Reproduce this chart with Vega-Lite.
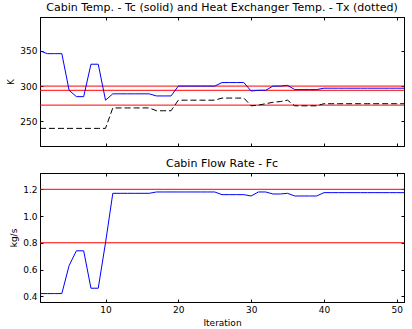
{
  "$schema": "https://vega.github.io/schema/vega-lite/v6.json",
  "background": "white",
  "padding": {"left": 6, "top": 1, "right": 4, "bottom": 3},
  "spacing": 10,
  "datasets": {
    "main": [
      {"i": 1, "Tc": 350, "Tx": 240, "Fc": 0.42},
      {"i": 2, "Tc": 346, "Tx": 240, "Fc": 0.42},
      {"i": 3, "Tc": 346, "Tx": 240, "Fc": 0.42},
      {"i": 4, "Tc": 346, "Tx": 240, "Fc": 0.42},
      {"i": 5, "Tc": 294, "Tx": 240, "Fc": 0.63},
      {"i": 6, "Tc": 285, "Tx": 240, "Fc": 0.74},
      {"i": 7, "Tc": 285, "Tx": 240, "Fc": 0.74},
      {"i": 8, "Tc": 331, "Tx": 240, "Fc": 0.46},
      {"i": 9, "Tc": 331, "Tx": 240, "Fc": 0.46},
      {"i": 10, "Tc": 280, "Tx": 240, "Fc": 0.80},
      {"i": 11, "Tc": 289, "Tx": 269, "Fc": 1.17},
      {"i": 12, "Tc": 289, "Tx": 269, "Fc": 1.17},
      {"i": 13, "Tc": 289, "Tx": 269, "Fc": 1.17},
      {"i": 14, "Tc": 289, "Tx": 269, "Fc": 1.17},
      {"i": 15, "Tc": 289, "Tx": 269, "Fc": 1.17},
      {"i": 16, "Tc": 289, "Tx": 269, "Fc": 1.17},
      {"i": 17, "Tc": 286, "Tx": 265, "Fc": 1.18},
      {"i": 18, "Tc": 286, "Tx": 265, "Fc": 1.18},
      {"i": 19, "Tc": 286, "Tx": 265, "Fc": 1.18},
      {"i": 20, "Tc": 300, "Tx": 280, "Fc": 1.18},
      {"i": 21, "Tc": 300, "Tx": 280, "Fc": 1.18},
      {"i": 22, "Tc": 300, "Tx": 280, "Fc": 1.18},
      {"i": 23, "Tc": 300, "Tx": 280, "Fc": 1.18},
      {"i": 24, "Tc": 300, "Tx": 280, "Fc": 1.18},
      {"i": 25, "Tc": 300, "Tx": 280, "Fc": 1.18},
      {"i": 26, "Tc": 305, "Tx": 283, "Fc": 1.16},
      {"i": 27, "Tc": 305, "Tx": 283, "Fc": 1.16},
      {"i": 28, "Tc": 305, "Tx": 283, "Fc": 1.16},
      {"i": 29, "Tc": 305, "Tx": 283, "Fc": 1.16},
      {"i": 30, "Tc": 293, "Tx": 272, "Fc": 1.15},
      {"i": 31, "Tc": 294, "Tx": 273, "Fc": 1.18},
      {"i": 32, "Tc": 294, "Tx": 275, "Fc": 1.18},
      {"i": 33, "Tc": 300, "Tx": 277, "Fc": 1.165},
      {"i": 34, "Tc": 300, "Tx": 278, "Fc": 1.165},
      {"i": 35, "Tc": 301, "Tx": 280, "Fc": 1.17},
      {"i": 36, "Tc": 295, "Tx": 272, "Fc": 1.15},
      {"i": 37, "Tc": 295, "Tx": 272, "Fc": 1.15},
      {"i": 38, "Tc": 295, "Tx": 272, "Fc": 1.15},
      {"i": 39, "Tc": 295, "Tx": 272, "Fc": 1.15},
      {"i": 40, "Tc": 297, "Tx": 275, "Fc": 1.175},
      {"i": 41, "Tc": 297, "Tx": 275, "Fc": 1.175},
      {"i": 42, "Tc": 297, "Tx": 275, "Fc": 1.175},
      {"i": 43, "Tc": 297, "Tx": 275, "Fc": 1.175},
      {"i": 44, "Tc": 297, "Tx": 275, "Fc": 1.175},
      {"i": 45, "Tc": 297, "Tx": 275, "Fc": 1.175},
      {"i": 46, "Tc": 297, "Tx": 275, "Fc": 1.175},
      {"i": 47, "Tc": 297, "Tx": 275, "Fc": 1.175},
      {"i": 48, "Tc": 297, "Tx": 275, "Fc": 1.175},
      {"i": 49, "Tc": 297, "Tx": 275, "Fc": 1.175},
      {"i": 50, "Tc": 297, "Tx": 275, "Fc": 1.175},
      {"i": 51, "Tc": 297, "Tx": 275, "Fc": 1.175}
    ],
    "limT": [{"v": 300}, {"v": 294}, {"v": 273}],
    "limF": [{"v": 1.2}, {"v": 0.8}]
  },
  "vconcat": [
    {
      "width": 364,
      "height": 129,
      "title": {"text": "Cabin Temp. - Tc (solid) and Heat Exchanger Temp. - Tx (dotted)"},
      "layer": [
        {
          "data": {"name": "limT"},
          "mark": {"type": "rule", "color": "#ff0000", "strokeWidth": 1},
          "encoding": {
            "y": {"field": "v", "type": "quantitative",
              "scale": {"domain": [215, 398], "nice": false, "zero": false},
              "axis": {"orient": "left", "title": "K", "values": [250, 300, 350]}}
          }
        },
        {
          "data": {"name": "main"},
          "mark": {"type": "line", "color": "#0000ff", "strokeWidth": 1},
          "encoding": {
            "x": {"field": "i", "type": "quantitative",
              "scale": {"domain": [1, 51], "nice": false, "zero": false},
              "axis": {"orient": "bottom", "labels": false, "title": null, "values": [10, 20, 30, 40, 50]}},
            "y": {"field": "Tc", "type": "quantitative",
              "axis": {"orient": "right", "labels": false, "title": null, "values": [250, 300, 350]}}
          }
        },
        {
          "data": {"name": "main"},
          "mark": {"type": "line", "color": "#000000", "strokeWidth": 1, "strokeDash": [6, 3]},
          "encoding": {
            "x": {"field": "i", "type": "quantitative",
              "axis": {"orient": "top", "labels": false, "title": null, "values": [10, 20, 30, 40, 50]}},
            "y": {"field": "Tx", "type": "quantitative", "axis": null}
          }
        }
      ],
      "resolve": {"axis": {"x": "independent", "y": "independent"}}
    },
    {
      "width": 364,
      "height": 129,
      "title": {"text": "Cabin Flow Rate - Fc"},
      "layer": [
        {
          "data": {"name": "limF"},
          "mark": {"type": "rule", "color": "#ff0000", "strokeWidth": 1},
          "encoding": {
            "y": {"field": "v", "type": "quantitative",
              "scale": {"domain": [0.357, 1.322], "nice": false, "zero": false},
              "axis": {"orient": "left", "title": "kg/s", "values": [0.4, 0.6, 0.8, 1.0, 1.2], "format": ".1f"}}
          }
        },
        {
          "data": {"name": "main"},
          "mark": {"type": "line", "color": "#0000ff", "strokeWidth": 1},
          "encoding": {
            "x": {"field": "i", "type": "quantitative",
              "scale": {"domain": [1, 51], "nice": false, "zero": false},
              "axis": {"orient": "bottom", "title": "Iteration", "values": [10, 20, 30, 40, 50]}},
            "y": {"field": "Fc", "type": "quantitative",
              "axis": {"orient": "right", "labels": false, "title": null, "values": [0.4, 0.6, 0.8, 1.0, 1.2]}}
          }
        },
        {
          "data": {"name": "main"},
          "mark": {"type": "rule", "opacity": 0},
          "encoding": {
            "x": {"field": "i", "type": "quantitative",
              "axis": {"orient": "top", "labels": false, "title": null, "values": [10, 20, 30, 40, 50]}}
          }
        }
      ],
      "resolve": {"axis": {"x": "independent", "y": "independent"}}
    }
  ],
  "config": {
    "font": "DejaVu Sans",
    "view": {"stroke": "#000000", "strokeWidth": 1},
    "axis": {
      "grid": false,
      "domain": true,
      "domainColor": "#000000",
      "tickColor": "#000000",
      "tickSize": -3,
      "labelPadding": 6,
      "labelFontSize": 9,
      "labelFont": "DejaVu Sans",
      "labelColor": "#000000",
      "titleFontSize": 9,
      "titleFont": "DejaVu Sans",
      "titleFontWeight": "normal",
      "titleColor": "#000000",
      "titlePadding": 4
    },
    "title": {"fontSize": 11, "fontWeight": "normal", "font": "DejaVu Sans", "color": "#000000", "offset": 4}
  }
}
